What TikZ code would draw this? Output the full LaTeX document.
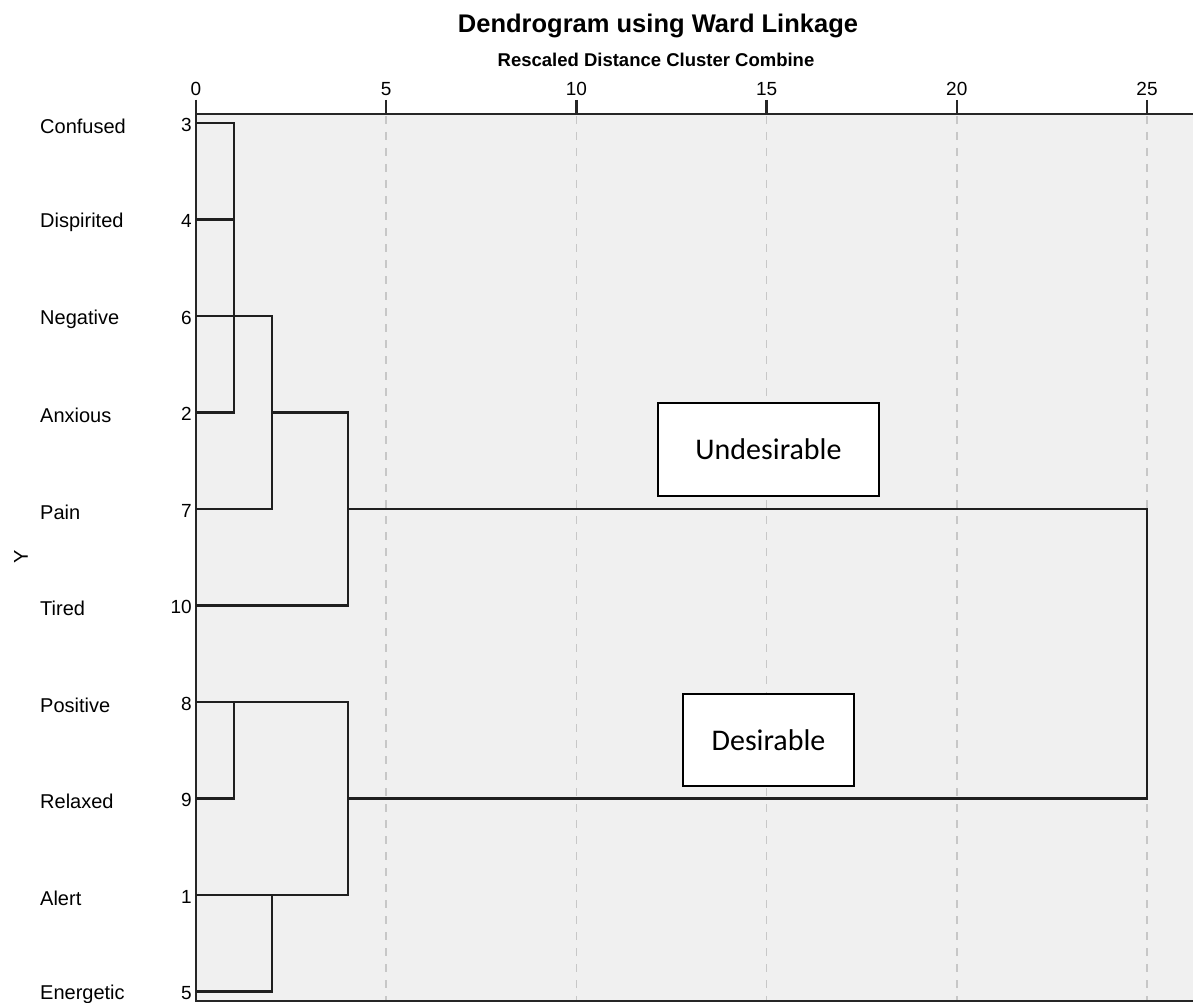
\documentclass[tikz,border=0pt]{standalone}
\usepackage{fontspec}
\setmainfont{Liberation Sans}
\newfontfamily\calib{Carlito}
\usepackage{tikz}
\usetikzlibrary{positioning}

\begin{document}
\begin{tikzpicture}[
  x=1pt, y=-1pt,
  rowlabel/.style = {anchor=west, inner sep=0pt, font=\fontsize{20}{24}\selectfont},
  casenum/.style = {anchor=east, inner sep=0pt, font=\fontsize{19}{22}\selectfont},
  ticklabel/.style = {anchor=base, inner sep=0pt, font=\fontsize{19}{22}\selectfont},
  axis/.style = {line width=2.4pt, black!85},
  grid/.style = {line width=1.5pt, black!22, dash pattern=on 8pt off 8pt},
  link/.style = {line width=2.6pt, black!88},
  groupbox/.style = {draw, fill=white, line width=1.8pt, font=\calib\fontsize{30}{36}\selectfont}
    ]
  \useasboundingbox (0,0) rectangle (1193,1003);
  \fill[black!6] (196,114) rectangle (1193,1001);

  \node[anchor=base, inner sep=0pt, font=\bfseries\fontsize{25.5}{30}\selectfont] (title) at (658,33) {Dendrogram using Ward Linkage};
  \node[anchor=base, inner sep=0pt, font=\bfseries\fontsize{18.5}{22}\selectfont] (subtitle) at (656,67) {Rescaled Distance Cluster Combine};
  \node[rotate=90, inner sep=0pt, font=\fontsize{20}{24}\selectfont] (ylab) at (21,557) {Y};

  \foreach \t in {5,10,...,25}
    \draw[grid] (196+38.04*\t,116) -- (196+38.04*\t,1000);
  \foreach \t in {0,5,...,25} {
    \node[ticklabel] (t\t) at (196+38.04*\t,96) {\t};
    \draw[axis] (196+38.04*\t,100) -- (196+38.04*\t,114);
  }
  \draw[axis] (196,114) -- (1193,114);
  \draw[axis] (196,100) -- (196,1001) -- (1193,1001);

  \foreach \lab/\num [count=\i from 0] in {Confused/3, Dispirited/4, Negative/6, Anxious/2, Pain/7,
      Tired/10, Positive/8, Relaxed/9, Alert/1, Energetic/5} {
    \node[rowlabel] (l\num) at (40,126+96.5*\i) {\lab};
    \node[casenum] (n\num) at (192,124.5+96.5*\i) {\num};
    \coordinate (c\num) at (196,123+96.5*\i);
  }

  \coordinate (A) at (234,316);
  \coordinate (B) at (272,412.5);
  \coordinate (C) at (348,509);
  \coordinate (D) at (234,702);
  \coordinate (E) at (272,895);
  \coordinate (F) at (348,798.5);
  \coordinate (G) at (1147,650);

  \draw[link] (c3) -| (A);
  \draw[link] (c4) -| (A);
  \draw[link] (c6) -| (A);
  \draw[link] (c2) -| (A);
  \draw[link] (A) -| (B);
  \draw[link] (c7) -| (B);
  \draw[link] (B) -| (C);
  \draw[link] (c10) -| (C);
  \draw[link] (c8) -| (D);
  \draw[link] (c9) -| (D);
  \draw[link] (c1) -| (E);
  \draw[link] (c5) -| (E);
  \draw[link] (D) -| (F);
  \draw[link] (E) -| (F);
  \draw[link] (C) -| (G);
  \draw[link] (F) -| (G);

  \node[groupbox, minimum width=221pt, minimum height=93pt] (undes) at (768.5,449.5) {Undesirable};
  \node[groupbox, minimum width=171pt, minimum height=92pt] (des) at (768.5,740) {Desirable};
\end{tikzpicture}
\end{document}
